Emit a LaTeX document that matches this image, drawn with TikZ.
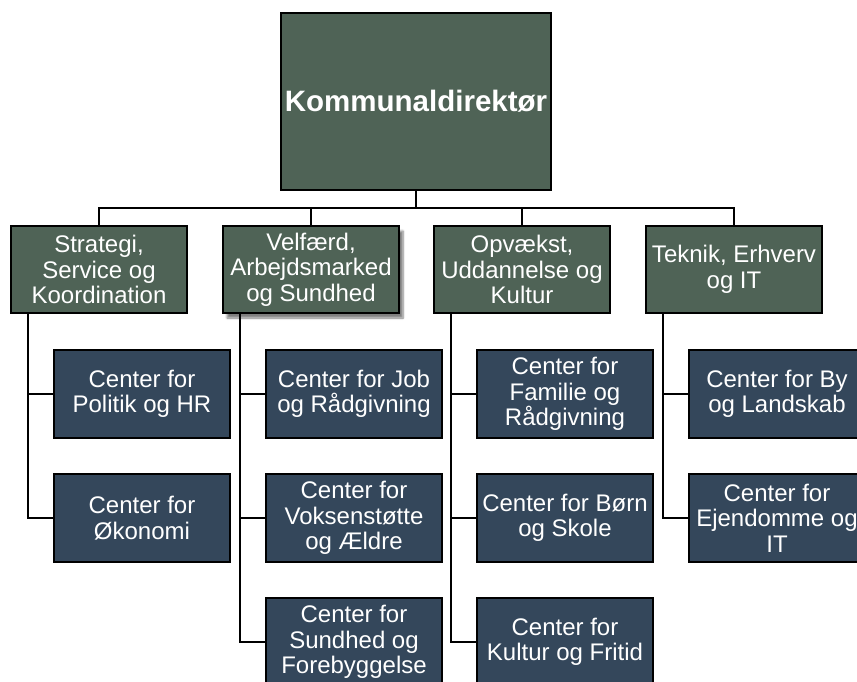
\documentclass[tikz,border=0pt]{standalone}
\usepackage{fontspec}
\setmainfont{Liberation Sans}
\usetikzlibrary{shadows.blur}
\definecolor{grn}{RGB}{79,99,86}
\definecolor{blu}{RGB}{52,71,91}
\begin{document}
\begin{tikzpicture}[x=1pt,y=-1pt,
  box/.style={draw=black, line width=2pt, text=white, align=center, inner sep=1pt,
    font=\fontsize{24}{25.5}\selectfont},
  topbox/.style={box, fill=grn, minimum width=270pt, minimum height=177pt,
    font=\fontsize{29.5}{32}\selectfont\bfseries},
  unit/.style={box, fill=grn, minimum width=176pt, minimum height=87pt},
  center/.style={box, fill=blu, minimum width=176pt, minimum height=88pt},
  link/.style={draw=black, line width=2pt}]
\useasboundingbox (0,0) rectangle (857,681);
\clip (0,0) rectangle (857,681);

\node[topbox] (top) at (416,101.5) {Kommunaldirektør};

\node[unit] (g1) at (99,269.5) {Strategi,\\Service og\\Koordination};
\node[unit, blur shadow={shadow xshift=4pt, shadow yshift=-5pt, shadow blur steps=6, shadow opacity=50}] (g2) at (311,269.5) {Velfærd,\\Arbejdsmarked\\og Sundhed};
\node[unit] (g3) at (522,269.5) {Opvækst,\\Uddannelse og\\Kultur};
\node[unit] (g4) at (734,269.5) {Teknik, Erhverv\\og IT};

\node[center] (b11) at (142,394) {Center for\\Politik og HR};
\node[center] (b12) at (142,518) {Center for\\Økonomi};

\node[center] (b21) at (354,394) {Center for Job\\og Rådgivning};
\node[center] (b22) at (354,518) {Center for\\Voksenstøtte\\og Ældre};
\node[center] (b23) at (354,642) {Center for\\Sundhed og\\Forebyggelse};

\node[center] (b31) at (565,394) {Center for\\Familie og\\Rådgivning};
\node[center] (b32) at (565,518) {Center for Børn\\og Skole};
\node[center] (b33) at (565,642) {Center for\\Kultur og Fritid};

\node[center] (b41) at (777,394) {Center for By\\og Landskab};
\node[center] (b42) at (777,518) {Center for\\Ejendomme og\\IT};

\coordinate (bus) at (416,208);
\draw[link] (top.south) -- (bus);
\foreach \g in {g1,g2,g3,g4}
  \draw[link] (bus) -| (\g.north);

\coordinate (s1) at ([xshift=18pt]g1.south west);
\coordinate (s2) at ([xshift=18pt]g2.south west);
\coordinate (s3) at ([xshift=18pt]g3.south west);
\coordinate (s4) at ([xshift=18pt]g4.south west);

\draw[link] (s1) |- (b12.west);
\draw[link] (s1 |- b11.west) -- (b11.west);
\draw[link] (s2) |- (b23.west);
\draw[link] (s2 |- b21.west) -- (b21.west);
\draw[link] (s2 |- b22.west) -- (b22.west);
\draw[link] (s3) |- (b33.west);
\draw[link] (s3 |- b31.west) -- (b31.west);
\draw[link] (s3 |- b32.west) -- (b32.west);
\draw[link] (s4) |- (b42.west);
\draw[link] (s4 |- b41.west) -- (b41.west);
\end{tikzpicture}
\end{document}
